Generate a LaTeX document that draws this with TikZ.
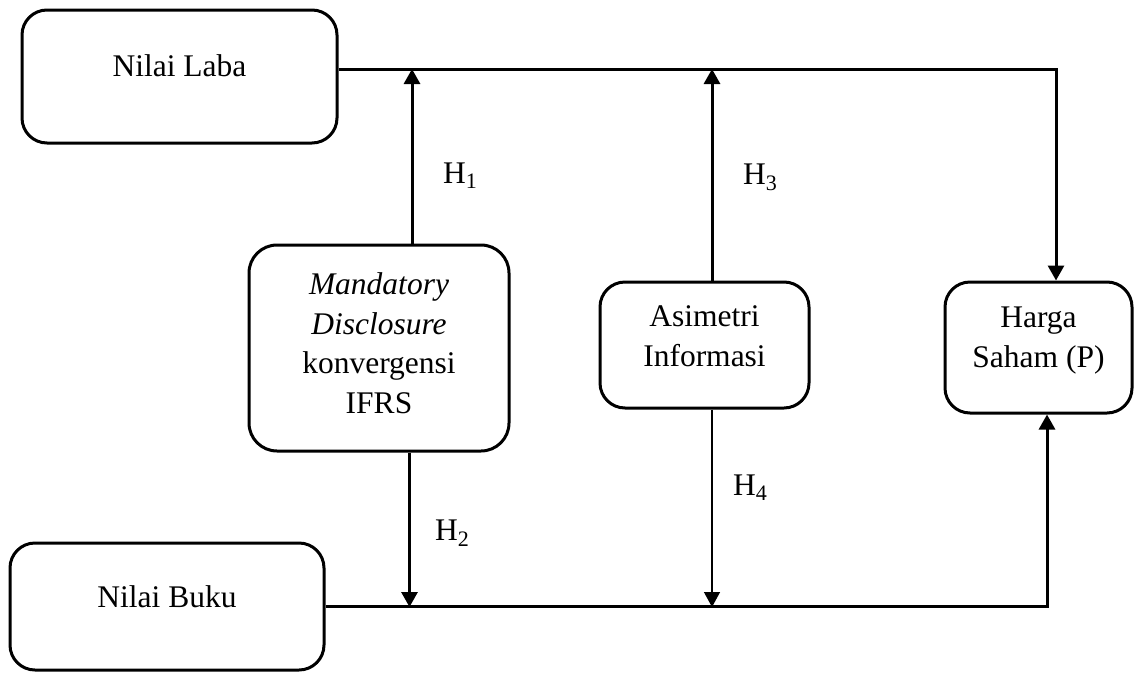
\documentclass[tikz,border=0pt]{standalone}
\usepackage{fontspec}
\setmainfont{Liberation Serif}
\usetikzlibrary{arrows.meta}
\begin{document}
\begin{tikzpicture}[x=1pt,y=-1pt,
  box/.style={draw, line width=3pt, rounded corners=25pt, inner sep=0pt},
  txt/.style={inner sep=0pt, align=center, font=\fontsize{31.5}{39.5}\selectfont},
  conn/.style={line width=3pt, -{Triangle[length=15pt,width=16pt]}},
  thinconn/.style={line width=1.4pt, -{Triangle[length=15pt,width=16pt]}},
  hlab/.style={inner sep=0pt, anchor=base west, font=\fontsize{31.5}{39.5}\selectfont}]
\useasboundingbox (0,0) rectangle (1134,672);

% boxes
\node[box, minimum width=315pt, minimum height=133pt] (laba) at (179.5,76.5) {};
\node[box, minimum width=314pt, minimum height=127pt] (buku) at (167,606.5) {};
\node[box, rounded corners=28pt, minimum width=260pt, minimum height=206pt] (mand) at (379,348) {};
\node[box, minimum width=209pt, minimum height=126pt] (asim) at (704.5,345) {};
\node[box, minimum width=187pt, minimum height=131pt] (harga) at (1038.5,347.5) {};

% texts
\node[txt] (labat) at (179.5,66) {Nilai Laba};
\node[txt] (bukut) at (167,597) {Nilai Buku};
\node[txt] (mandt) at (379,343) {\textit{Mandatory}\\\textit{Disclosure}\\konvergensi\\IFRS};
\node[txt] (asimt) at (704.5,336) {Asimetri\\Informasi};
\node[txt] (hargat) at (1038.5,340.5) {Harga\\Saham (P)};

% junction points
\coordinate (t1) at (412,69);
\coordinate (t3) at (712,69);
\coordinate (b2) at (409.5,607);
\coordinate (b4) at (712,607);

% connectors
\draw[conn] ([yshift=7.5pt]laba.east) -| ([xshift=17.5pt]harga.north);
\draw[conn] (buku.east) -| ([xshift=8.5pt]harga.south);
\draw[conn] (mand.north -| t1) -- (t1);
\draw[conn] (asim.north -| t3) -- (t3);
\draw[conn] (mand.south -| b2) -- (b2);
\draw[thinconn] (asim.south -| b4) -- (b4);

% labels
\node[hlab] (h1) at (443,183) {H\textsubscript{1}};
\node[hlab] (h2) at (435,540) {H\textsubscript{2}};
\node[hlab] (h3) at (743,184) {H\textsubscript{3}};
\node[hlab] (h4) at (733,495) {H\textsubscript{4}};
\end{tikzpicture}
\end{document}
